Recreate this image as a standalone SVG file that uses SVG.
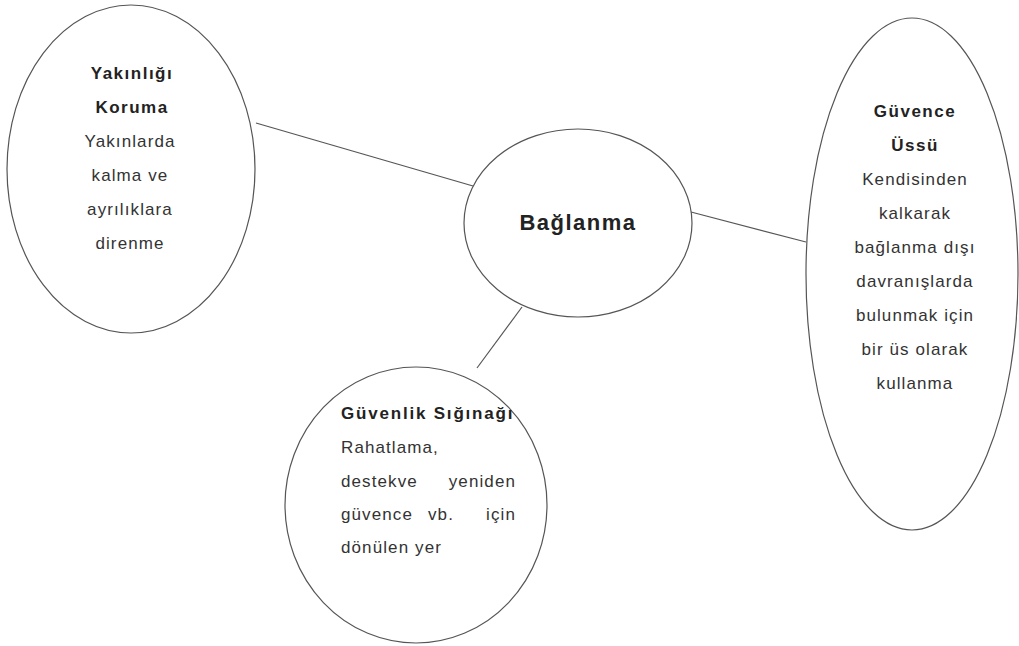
<svg xmlns="http://www.w3.org/2000/svg" width="1019" height="646" viewBox="0 0 1019 646">
<style>
.shape{fill:#fff;stroke:#555;stroke-width:1.2}
.conn{stroke:#555;stroke-width:1.2;fill:none}
text{font-family:"Liberation Sans",Arial,sans-serif;font-size:17px;fill:#333;letter-spacing:1.1px}
.b{font-weight:bold;fill:#222;letter-spacing:1.5px}
.c{text-anchor:middle}
.title{font-size:22px;font-weight:bold;fill:#222;letter-spacing:1.5px}
</style>
<rect width="1019" height="646" fill="#fff"/>
<g id="connectors">
<line class="conn" x1="256" y1="123" x2="473" y2="186"/>
<line class="conn" x1="691" y1="212" x2="806" y2="242"/>
<line class="conn" x1="522" y1="307" x2="477" y2="368"/>
</g>
<g id="node-yakinligi">
<ellipse class="shape" cx="131" cy="169" rx="124" ry="164"/>
<text class="c b" x="132" y="79">Yakınlığı</text>
<text class="c b" x="132" y="113">Koruma</text>
<text class="c" x="130" y="147">Yakınlarda</text>
<text class="c" x="130" y="181">kalma ve</text>
<text class="c" x="130" y="215">ayrılıklara</text>
<text class="c" x="130" y="249">direnme</text>
</g>
<g id="node-baglanma">
<ellipse class="shape" cx="578" cy="223" rx="114" ry="94"/>
<text class="title c" x="578" y="230">Bağlanma</text>
</g>
<g id="node-guvence">
<ellipse class="shape" cx="912" cy="274" rx="106" ry="256"/>
<text class="c b" x="915" y="117">Güvence</text>
<text class="c b" x="915" y="151">Üssü</text>
<text class="c" x="915" y="185">Kendisinden</text>
<text class="c" x="915" y="219">kalkarak</text>
<text class="c" x="915" y="253">bağlanma dışı</text>
<text class="c" x="915" y="287">davranışlarda</text>
<text class="c" x="915" y="321">bulunmak için</text>
<text class="c" x="915" y="355">bir üs olarak</text>
<text class="c" x="915" y="389">kullanma</text>
</g>
<g id="node-siginak">
<ellipse class="shape" cx="416" cy="505" rx="131" ry="138"/>
<text class="b" x="341" y="419" style="letter-spacing:1.8px">Güvenlik Sığınağı</text>
<text x="341" y="453">Rahatlama,</text>
<text x="341" y="487">destekve</text>
<text x="516" y="487" text-anchor="end">yeniden</text>
<text x="341" y="520">güvence</text>
<text x="428" y="520">vb.</text>
<text x="516" y="520" text-anchor="end">için</text>
<text x="341" y="553">dönülen yer</text>
</g>
</svg>
